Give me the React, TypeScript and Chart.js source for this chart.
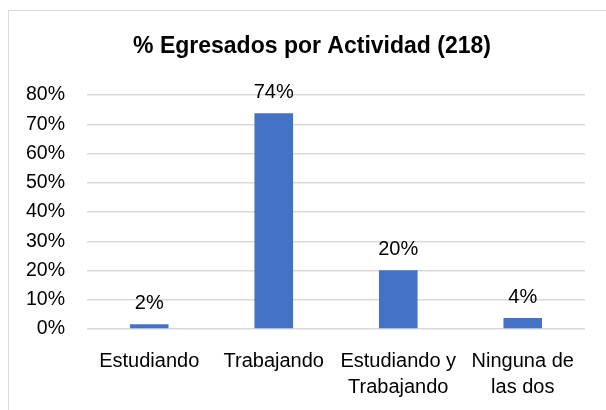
import React, { useEffect, useRef } from "react";
import { Chart, registerables } from "chart.js";

Chart.register(...registerables);

const categories: (string | string[])[] = [
  "Estudiando",
  "Trabajando",
  ["Estudiando y", "Trabajando"],
  ["Ninguna de", "las dos"],
];
const values = [1.6, 73.8, 20.1, 3.8];
const valueLabels = ["2%", "74%", "20%", "4%"];
const titleText = "% Egresados por Actividad (218)";

const FONT = "'Liberation Sans', Arial, sans-serif";

const decor = {
  id: "decor",
  beforeDraw(chart: any) {
    const ctx = chart.ctx;
    ctx.save();
    ctx.fillStyle = "#ffffff";
    ctx.fillRect(0, 0, chart.width, chart.height);
    ctx.strokeStyle = "#d9d9d9";
    ctx.lineWidth = 1;
    ctx.beginPath();
    ctx.moveTo(8.5, chart.height + 2);
    ctx.lineTo(8.5, 10.5);
    ctx.lineTo(chart.width + 2, 10.5);
    ctx.stroke();
    ctx.restore();
  },
  afterDraw(chart: any) {
    const ctx = chart.ctx;
    ctx.save();
    ctx.fillStyle = "#000000";
    ctx.font = `bold 23px ${FONT}`;
    ctx.textAlign = "center";
    ctx.textBaseline = "middle";
    ctx.fillText(titleText, 312, 47);
    ctx.font = `20px ${FONT}`;
    ctx.textBaseline = "alphabetic";
    const meta = chart.getDatasetMeta(0);
    meta.data.forEach((bar: any, i: number) => {
      ctx.fillText(valueLabels[i], bar.x, bar.y - 15);
    });
    ctx.restore();
  },
};

export default function App() {
  const ref = useRef<HTMLCanvasElement>(null);
  useEffect(() => {
    document.body.style.margin = "0";
    const chart = new Chart(ref.current!, {
      type: "bar",
      data: {
        labels: categories as any,
        datasets: [
          {
            data: values,
            backgroundColor: "#4472C4",
            barPercentage: 0.62,
            categoryPercentage: 0.5,
          },
        ],
      },
      options: {
        animation: false,
        responsive: false,
        maintainAspectRatio: false,
        layout: { padding: { top: 95, right: 21, bottom: 0, left: 0 } },
        plugins: {
          legend: { display: false },
          title: { display: false },
          tooltip: { enabled: false },
        },
        scales: {
          x: {
            grid: { display: false, drawTicks: false },
            border: { display: false },
            ticks: {
              color: "#000000",
              font: { family: FONT, size: 20, lineHeight: 1.3 },
              padding: 19,
              maxRotation: 0,
              autoSkip: false,
            },
            afterFit(scale: any) {
              scale.height = 81;
            },
          },
          y: {
            min: 0,
            max: 80,
            grid: { color: "#d9d9d9", lineWidth: 1.5, drawTicks: false },
            border: { display: false },
            ticks: {
              stepSize: 10,
              autoSkip: false,
              color: "#000000",
              font: { family: FONT, size: 19.5 },
              padding: 22,
              callback: (v: any) => `${v}%`,
            },
            afterFit(scale: any) {
              scale.width = 87;
            },
          },
        },
      },
      plugins: [decor],
    });
    return () => chart.destroy();
  }, []);
  return (
    <div style={{ position: "fixed", left: 0, top: 0, width: 606, height: 410 }}>
      <canvas ref={ref} width={606} height={410} style={{ width: 606, height: 410 }} />
    </div>
  );
}
